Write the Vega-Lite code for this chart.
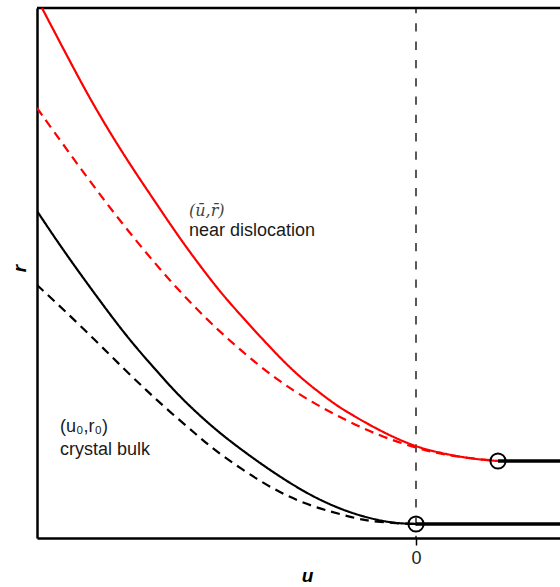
{
  "$schema": "https://vega.github.io/schema/vega-lite/v6.json",
  "autosize": {"type": "none"},
  "padding": {"left": 37, "top": 8, "right": 0, "bottom": 49},
  "width": 523,
  "height": 530,
  "background": "white",
  "config": {"view": {"stroke": null}},
  "datasets": {
    "curves": [
      {"s": "red_solid", "u": -3.74, "r": 5.30},
      {"s": "red_solid", "u": -3.51, "r": 4.86},
      {"s": "red_solid", "u": -3.26, "r": 4.39},
      {"s": "red_solid", "u": -3.01, "r": 3.97},
      {"s": "red_solid", "u": -2.77, "r": 3.60},
      {"s": "red_solid", "u": -2.66, "r": 3.44},
      {"s": "red_solid", "u": -2.36, "r": 2.99},
      {"s": "red_solid", "u": -2.06, "r": 2.59},
      {"s": "red_solid", "u": -1.89, "r": 2.38},
      {"s": "red_solid", "u": -1.61, "r": 2.07},
      {"s": "red_solid", "u": -1.36, "r": 1.80},
      {"s": "red_solid", "u": -1.13, "r": 1.58},
      {"s": "red_solid", "u": -0.83, "r": 1.35},
      {"s": "red_solid", "u": -0.69, "r": 1.26},
      {"s": "red_solid", "u": -0.36, "r": 1.07},
      {"s": "red_solid", "u": -0.03, "r": 0.92},
      {"s": "red_solid", "u": 0.24, "r": 0.85},
      {"s": "red_solid", "u": 0.51, "r": 0.80},
      {"s": "red_solid", "u": 0.69, "r": 0.78},
      {"s": "red_solid", "u": 0.82, "r": 0.77},
      {"s": "red_dashed", "u": -3.79, "r": 4.30},
      {"s": "red_dashed", "u": -3.46, "r": 3.84},
      {"s": "red_dashed", "u": -3.13, "r": 3.39},
      {"s": "red_dashed", "u": -2.79, "r": 2.96},
      {"s": "red_dashed", "u": -2.46, "r": 2.57},
      {"s": "red_dashed", "u": -2.11, "r": 2.20},
      {"s": "red_dashed", "u": -1.76, "r": 1.88},
      {"s": "red_dashed", "u": -1.39, "r": 1.58},
      {"s": "red_dashed", "u": -1.03, "r": 1.35},
      {"s": "red_dashed", "u": -0.69, "r": 1.17},
      {"s": "red_dashed", "u": -0.36, "r": 1.02},
      {"s": "red_dashed", "u": -0.03, "r": 0.91},
      {"s": "red_dashed", "u": 0.24, "r": 0.84},
      {"s": "red_dashed", "u": 0.51, "r": 0.80},
      {"s": "red_dashed", "u": 0.82, "r": 0.77},
      {"s": "black_solid", "u": -3.79, "r": 3.27},
      {"s": "black_solid", "u": -3.53, "r": 2.88},
      {"s": "black_solid", "u": -3.19, "r": 2.41},
      {"s": "black_solid", "u": -2.86, "r": 1.97},
      {"s": "black_solid", "u": -2.53, "r": 1.60},
      {"s": "black_solid", "u": -2.36, "r": 1.41},
      {"s": "black_solid", "u": -2.03, "r": 1.10},
      {"s": "black_solid", "u": -1.69, "r": 0.84},
      {"s": "black_solid", "u": -1.36, "r": 0.61},
      {"s": "black_solid", "u": -1.03, "r": 0.41},
      {"s": "black_solid", "u": -0.69, "r": 0.26},
      {"s": "black_solid", "u": -0.36, "r": 0.17},
      {"s": "black_solid", "u": -0.16, "r": 0.145},
      {"s": "black_solid", "u": 0.0, "r": 0.14},
      {"s": "black_dashed", "u": -3.79, "r": 2.53},
      {"s": "black_dashed", "u": -3.53, "r": 2.29},
      {"s": "black_dashed", "u": -3.19, "r": 1.96},
      {"s": "black_dashed", "u": -2.93, "r": 1.70},
      {"s": "black_dashed", "u": -2.69, "r": 1.47},
      {"s": "black_dashed", "u": -2.46, "r": 1.26},
      {"s": "black_dashed", "u": -2.19, "r": 1.03},
      {"s": "black_dashed", "u": -2.03, "r": 0.89},
      {"s": "black_dashed", "u": -1.69, "r": 0.65},
      {"s": "black_dashed", "u": -1.36, "r": 0.45},
      {"s": "black_dashed", "u": -1.03, "r": 0.31},
      {"s": "black_dashed", "u": -0.69, "r": 0.22},
      {"s": "black_dashed", "u": -0.53, "r": 0.18},
      {"s": "black_dashed", "u": -0.36, "r": 0.16},
      {"s": "black_dashed", "u": -0.16, "r": 0.145},
      {"s": "black_dashed", "u": 0.0, "r": 0.14}
    ],
    "flats": [
      {"s": "near", "u": 0.82, "r": 0.77},
      {"s": "near", "u": 1.6, "r": 0.77},
      {"s": "bulk", "u": 0.0, "r": 0.14},
      {"s": "bulk", "u": 1.6, "r": 0.14}
    ],
    "minima": [
      {"u": 0.82, "r": 0.77},
      {"u": 0.0, "r": 0.14}
    ],
    "labels": [
      {"u": -2.27, "r": 3.22, "t": "(ū,r̄)", "kind": "math"},
      {"u": -2.27, "r": 3.02, "t": "near dislocation", "kind": "plain"},
      {"u": -3.56, "r": 1.06, "t": "(u₀,r₀)", "kind": "plain"},
      {"u": -3.56, "r": 0.83, "t": "crystal bulk", "kind": "plain"}
    ]
  },
  "layer": [
    {
      "data": {"values": [{"u0": 0}]},
      "mark": {"type": "rule", "color": "black", "strokeWidth": 1.3, "strokeDash": [8.3, 10], "strokeDashOffset": 3},
      "encoding": {
        "x": {"field": "u0", "type": "quantitative", "scale": {"domain": [-3.79, 1.44], "nice": false, "zero": false},
          "axis": {"values": [0], "format": "d", "domain": true, "domainColor": "black", "domainWidth": 2.5, "ticks": true, "tickSize": 7, "tickWidth": 1.5, "tickColor": "black", "labelFontSize": 18, "labelFont": "Liberation Sans", "labelColor": "#222", "labelPadding": 4, "grid": false, "title": "u", "titleFont": "Liberation Sans", "titleFontSize": 19, "titleFontWeight": "bold", "titleFontStyle": "italic", "titleColor": "black", "titleX": 270, "titleY": 43, "titleBaseline": "alphabetic", "titleAlign": "center"}}
      }
    },
    {
      "data": {"values": [{"rtop": 5.3}]},
      "mark": {"type": "rule", "color": "black", "strokeWidth": 2.5},
      "encoding": {
        "y": {"field": "rtop", "type": "quantitative", "scale": {"domain": [0, 5.3], "nice": false, "zero": false},
          "axis": {"domain": true, "domainColor": "black", "domainWidth": 2.5, "ticks": false, "labels": false, "grid": false, "title": "r", "titleFont": "Liberation Sans", "titleFontSize": 19, "titleFontWeight": "bold", "titleFontStyle": "italic", "titleColor": "black", "titleAngle": -90, "titleX": -12, "titleY": 260, "titleBaseline": "alphabetic", "titleAlign": "center"}}
      }
    },
    {
      "data": {"name": "curves"},
      "mark": {"type": "line", "strokeWidth": 2.2, "clip": true, "interpolate": "basis"},
      "encoding": {
        "x": {"field": "u", "type": "quantitative"},
        "y": {"field": "r", "type": "quantitative"},
        "color": {"field": "s", "type": "nominal", "scale": {"domain": ["red_solid", "red_dashed", "black_solid", "black_dashed"], "range": ["#ff0000", "#ff0000", "#000000", "#000000"]}, "legend": null},
        "strokeDash": {"field": "s", "type": "nominal", "scale": {"domain": ["red_solid", "red_dashed", "black_solid", "black_dashed"], "range": [[1, 0], [9, 6], [1, 0], [9, 6]]}, "legend": null}
      }
    },
    {
      "data": {"name": "flats"},
      "mark": {"type": "line", "strokeWidth": 3.5, "color": "black", "clip": true},
      "encoding": {
        "x": {"field": "u", "type": "quantitative"},
        "y": {"field": "r", "type": "quantitative"},
        "detail": {"field": "s", "type": "nominal"}
      }
    },
    {
      "data": {"name": "minima"},
      "mark": {"type": "point", "shape": "circle", "filled": false, "size": 230, "stroke": "black", "strokeWidth": 2, "opacity": 1},
      "encoding": {
        "x": {"field": "u", "type": "quantitative"},
        "y": {"field": "r", "type": "quantitative"}
      }
    },
    {
      "data": {"name": "labels"},
      "transform": [{"filter": "datum.kind == 'plain'"}],
      "mark": {"type": "text", "align": "left", "baseline": "alphabetic", "font": "Liberation Sans", "fontSize": 18, "color": "#1a1a1a"},
      "encoding": {
        "x": {"field": "u", "type": "quantitative"},
        "y": {"field": "r", "type": "quantitative"},
        "text": {"field": "t"}
      }
    },
    {
      "data": {"name": "labels"},
      "transform": [{"filter": "datum.kind == 'math'"}],
      "mark": {"type": "text", "align": "left", "baseline": "alphabetic", "font": "DejaVu Serif", "fontStyle": "italic", "fontSize": 16, "color": "#444444"},
      "encoding": {
        "x": {"field": "u", "type": "quantitative"},
        "y": {"field": "r", "type": "quantitative"},
        "text": {"field": "t"}
      }
    }
  ]
}
